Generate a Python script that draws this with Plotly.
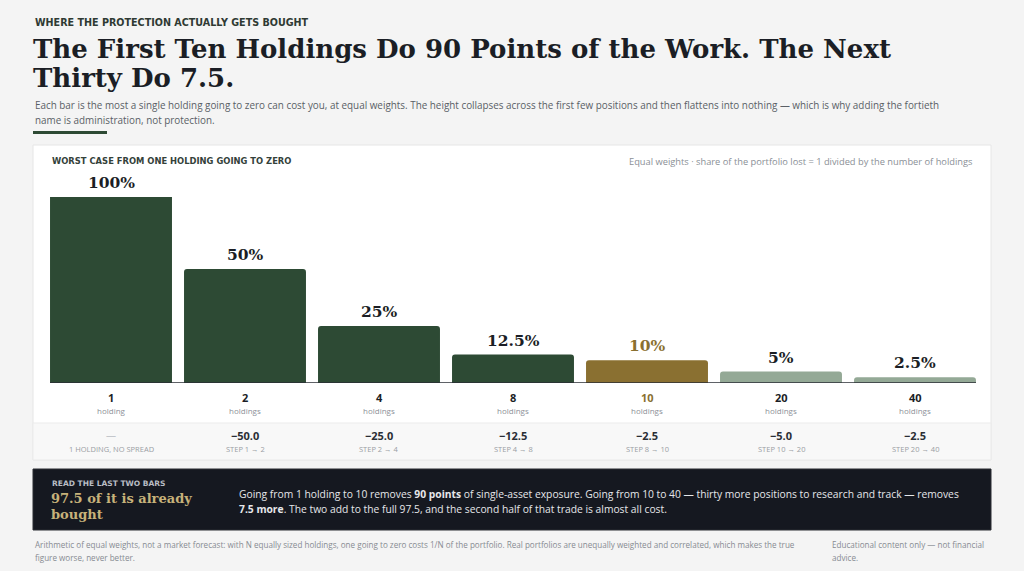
import plotly.graph_objects as go

W, H = 1024, 571

# data
holdings = ["1", "2", "4", "8", "10", "20", "40"]
loss_pct = [100, 50, 25, 12.5, 10, 5, 2.5]
unit_labels = ["holding", "holdings", "holdings", "holdings", "holdings", "holdings", "holdings"]
step_change = [None, -50.0, -25.0, -12.5, -2.5, -5.0, -2.5]
step_labels = ["1 HOLDING, NO SPREAD", "STEP 1 \u2192 2", "STEP 2 \u2192 4", "STEP 4 \u2192 8",
               "STEP 8 \u2192 10", "STEP 10 \u2192 20", "STEP 20 \u2192 40"]
bar_role = ["core", "core", "core", "core", "mark", "tail", "tail"]
y_max = 81.6  # tallest bar runs off the top of the plot

GREEN = "#2d4a34"
GOLD = "#8a7031"
SAGE = "#94a996"
INK = "#1b1e25"
role_color = {"core": GREEN, "mark": GOLD, "tail": SAGE}

SANS = "Open Sans"
SERIF = "DejaVu Serif"


def px(x):
    return x / W


def py(y):
    return 1 - y / H


fig = go.Figure()

fig.add_trace(go.Bar(
    x=holdings,
    y=loss_pct,
    marker=dict(color=[role_color[r] for r in bar_role], line=dict(width=0), cornerradius=3),
    hoverinfo="skip",
    showlegend=False,
))

annotations = []


def text(x, y, s, size, color, family=SANS, xanchor="left", yanchor="middle", xref="paper", yref="paper", **kw):
    annotations.append(dict(
        x=x, y=y, text=s, xref=xref, yref=yref, xanchor=xanchor, yanchor=yanchor,
        showarrow=False, font=dict(size=size, color=color, family=family), **kw
    ))


# header block
text(px(33), py(23), "<b>WHERE THE PROTECTION ACTUALLY GETS BOUGHT</b>", 9.6, "#2f3a33", family="DejaVu Sans")
text(px(31), py(49), "<b>The First Ten Holdings Do 90 Points of the Work. The Next</b>", 26, INK, family=SERIF)
text(px(31), py(78), "<b>Thirty Do 7.5.</b>", 26, INK, family=SERIF)
text(px(33), py(105), "Each bar is the most a single holding going to zero can cost you, at equal weights. "
     "The height collapses across the first few positions and then flattens into nothing \u2014 which is why adding the fortieth",
     9.9, "#5a5f66")
text(px(33), py(120), "name is administration, not protection.", 9.9, "#5a5f66")

# card header
text(px(50), py(161), "<b>WORST CASE FROM ONE HOLDING GOING TO ZERO</b>", 8.4, "#34413a", family="DejaVu Sans")
text(px(975), py(161), "Equal weights \u00b7 share of the portfolio lost = 1 divided by the number of holdings",
     9.3, "#8a8f96", xanchor="right")

# value labels, bars and step rows (category index i on the x axis)
for i, (h, v, u, d, s, r) in enumerate(zip(holdings, loss_pct, unit_labels, step_change, step_labels, bar_role)):
    lab = f"{v:g}%"
    text(i, min(v, y_max), f"<b>{lab}</b>", 15.5, GOLD if r == "mark" else INK, family=SERIF,
         xanchor="center", yanchor="bottom", xref="x", yref="y", yshift=3)
    text(i, py(397), f"<b>{h}</b>", 11, GOLD if r == "mark" else INK, xanchor="center", xref="x")
    text(i, py(410), u, 8, "#8d9198", xanchor="center", xref="x")
    if d is None:
        text(i, py(435), "\u2014", 10, "#c4c7cc", xanchor="center", xref="x")
    else:
        text(i, py(435), f"<b>{d:.1f}</b>".replace("-", "\u2212"), 11, "#2a2e35", xanchor="center", xref="x")
    text(i, py(449), s, 7.5, "#9a9ea4", xanchor="center", xref="x")

# dark callout
text(px(50), py(483), "<b>READ THE LAST TWO BARS</b>", 7.5, "#b9bdc4", family="DejaVu Sans")
text(px(49), py(498), "<b>97.5 of it is already</b>", 13, "#c7b27a", family=SERIF)
text(px(49), py(514), "<b>bought</b>", 13, "#c7b27a", family=SERIF)
text(px(237), py(494), "Going from 1 holding to 10 removes <b>90 points</b> of single-asset exposure. "
     "Going from 10 to 40 \u2014 thirty more positions to research and track \u2014 removes", 10.3, "#e6e7ea")
text(px(237), py(509), "<b>7.5 more</b>. The two add to the full 97.5, and the second half of that trade is almost all cost.",
     10.3, "#e6e7ea")

# footnotes
text(px(33), py(544), "Arithmetic of equal weights, not a market forecast: with N equally sized holdings, one going to zero "
     "costs 1/N of the portfolio. Real portfolios are unequally weighted and correlated, which makes the true",
     8.1, "#878b92")
text(px(33), py(557), "figure worse, never better.", 8.1, "#878b92")
text(px(830), py(544), "Educational content only \u2014 not financial", 8.1, "#878b92")
text(px(830), py(557), "advice.", 8.1, "#878b92")

shapes = [
    # accent rule under the dek
    dict(type="rect", xref="paper", yref="paper", x0=px(33), x1=px(107), y0=py(134), y1=py(131),
         fillcolor=GREEN, line=dict(width=0), layer="below"),
    # chart card
    dict(type="rect", xref="paper", yref="paper", x0=px(33), x1=px(991), y0=py(460), y1=py(145),
         fillcolor="#ffffff", line=dict(color="#e6e6e6", width=1), layer="below"),
    # step band
    dict(type="rect", xref="paper", yref="paper", x0=px(33), x1=px(991), y0=py(460), y1=py(423),
         fillcolor="#f8f8f8", line=dict(color="#ebebeb", width=1), layer="below"),
    # baseline
    dict(type="line", xref="paper", yref="y", x0=px(50), x1=px(976), y0=0, y1=0,
         line=dict(color="#2a2e35", width=1.6)),
    # dark callout box
    dict(type="rect", xref="paper", yref="paper", x0=px(33), x1=px(991), y0=py(530), y1=py(469),
         fillcolor="#151820", line=dict(color="#2a2d33", width=1), layer="below"),
]

fig.update_layout(
    width=W, height=H, autosize=False,
    margin=dict(l=0, r=0, t=0, b=0),
    paper_bgcolor="#f4f4f4",
    plot_bgcolor="rgba(0,0,0,0)",
    bargap=0.09,
    xaxis=dict(type="category", domain=[px(44), px(982)], range=[-0.5, len(holdings) - 0.5],
               showticklabels=False, showgrid=False, zeroline=False, fixedrange=True),
    yaxis=dict(domain=[py(383), py(197)], range=[0, y_max], showticklabels=False, showgrid=False,
               zeroline=False, fixedrange=True),
    annotations=annotations,
    shapes=shapes,
)

fig.write_html("out.html", config={"displayModeBar": False},
               post_script="document.body.style.margin='0';document.body.style.background='#f4f4f4';")
